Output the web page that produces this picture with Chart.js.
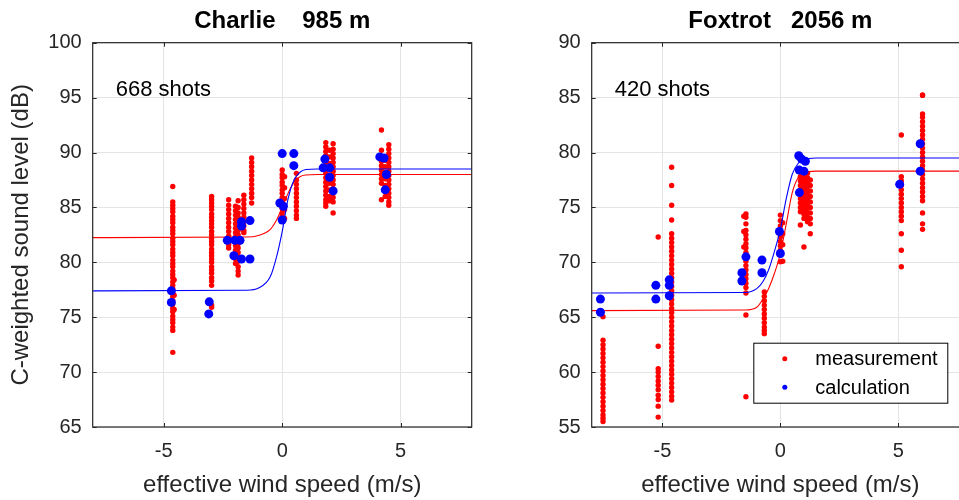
<!DOCTYPE html>
<html><head><meta charset="utf-8">
<script src="https://cdn.jsdelivr.net/npm/chart.js@4/dist/chart.umd.min.js"></script>
<style>
html,body{margin:0;padding:0;background:#fff;overflow:hidden;width:959px;height:500px;}
#c1{position:absolute;left:0;top:0;}
#c2{position:absolute;left:480px;top:0;}
</style></head><body>
<canvas id="c1" width="480" height="500"></canvas>
<canvas id="c2" width="500" height="500"></canvas>
<script>
// ---------- text ----------
const titleCharlie = 'Charlie    985 m';
const titleFoxtrot = 'Foxtrot   2056 m';
const shotsCharlie = '668 shots';
const shotsFoxtrot = '420 shots';
const xAxisLabel = 'effective wind speed (m/s)';
const yAxisLabel = 'C-weighted sound level (dB)';
const legendLabels = ['measurement', 'calculation'];

// ---------- ticks ----------
const xTicks = [-5, 0, 5];
const yTicksCharlie = [65, 70, 75, 80, 85, 90, 95, 100];
const yTicksFoxtrot = [55, 60, 65, 70, 75, 80, 85, 90];

// ---------- Charlie 985 m : measurements (columns of dots) ----------
const charlieMeasured = [
  {x:-4.62, y:[86.9,85.5,85.2,84.9,84.6,84.2,83.9,83.6,83.2,82.9,82.6,82.2,81.9,81.6,81.2,80.9,80.6,80.2,79.9,79.6,79.2,78.9,78.6,78.2,77.9,77.6,77.2,76.9,76.5,76.2,75.8,75.5,75.1,74.8,74.5,74.1,73.8,71.8]},
  {x:-4.56, y:[78.4,77.0,75.7]},
  {x:-2.98, y:[86.0,85.7,85.4,85.1,84.8,84.4,84.1,83.8,83.5,83.2,82.8,82.5,82.2,81.9,81.6,81.2,80.9,80.6,80.3,80.0,79.6,79.3,79.0,78.6,78.3,77.9,76.1,75.9]},
  {x:-2.26, y:[85.7,85.2,84.8,84.4,84.0,83.6,83.2,82.8,82.4,82.0,81.6,81.3]},
  {x:-1.97, y:[85.1,84.7,84.3,83.9,83.5,83.1,82.7,82.3,81.9,81.5,81.1,80.7,80.3,79.9]},
  {x:-1.86, y:[85.6,85.0,84.5,84.1,83.7,83.3,82.9,82.5,82.1,81.7,81.3,80.9,80.5,80.1,79.6,79.2,78.85]},
  {x:-1.62, y:[86.1,85.7,85.3,84.9,84.5,84.1,83.7,83.3,82.9,82.7]},
  {x:-1.29, y:[89.5,89.1,88.7,88.3,87.9,87.5,87.1,86.7,86.3,85.9,85.4]},
  {x:0.0, y:[88.4,88.0,87.7,87.3,87.0,86.6,86.3,85.9,85.6,85.2,84.9,84.5,84.2]},
  {x:0.1, y:[87.8,86.8,85.8,84.8,84.0]},
  {x:0.6, y:[88.1,87.5,87.1,86.7,86.3,85.9,85.5,85.1,84.7,84.3,84.0]},
  {x:1.84, y:[90.9,90.5,90.1,89.7,89.3,88.9,88.5,88.1,87.7,87.3,86.9,86.5,86.1,85.7,85.4,85.1]},
  {x:2.0, y:[90.2,89.6,89.0,88.4,87.8,87.2,86.6,86.0,85.6]},
  {x:2.15, y:[90.8,90.3,89.9,89.5,89.1,88.7,88.3,87.9,87.5,87.1,86.7,86.3,85.9,85.5,84.5]},
  {x:4.19, y:[92.05,90.2,89.6,89.2,88.8,88.4,88.0,87.6,87.2,85.7]},
  {x:4.35, y:[89.3,88.7,88.2,87.6,87.0,86.5,86.0]},
  {x:4.5, y:[90.7,90.3,89.9,89.5,89.1,88.7,88.3,87.9,87.5,87.1,86.7,86.3,85.9,85.5,85.2]}
];
// calculation points [x, y]
const charlieCalculated = [
  [-4.68,77.4],[-4.68,76.35],[-3.08,76.4],[-3.1,75.3],[-2.32,82.0],[-2.0,82.0],[-1.78,82.0],
  [-1.72,83.7],[-1.36,83.8],[-1.72,83.3],[-2.04,80.6],[-1.72,80.3],[-1.36,80.3],
  [-0.1,85.4],[0.05,85.1],[0.0,83.85],[0.0,89.9],[0.49,89.9],[0.49,88.8],
  [1.8,89.4],[1.73,88.6],[2.0,88.6],[2.0,87.75],[2.15,86.5],
  [4.12,89.6],[4.3,89.5],[4.4,88.0],[4.35,86.6]
];
// fitted curves
const charlieFitX    = [-8, -1.5, -1.0, -0.5, -0.25, 0, 0.25, 0.5, 0.75, 1.0, 1.5, 8];
const charlieFitMeas = [82.25, 82.3, 82.45, 83.0, 83.8, 85.0, 86.3, 87.3, 87.8, 87.95, 88.0, 88.0];
const charlieFitCalc = [77.4, 77.45, 77.65, 78.7, 80.4, 82.8, 85.8, 87.5, 88.2, 88.45, 88.5, 88.5];

// ---------- Foxtrot 2056 m ----------
const foxtrotMeasured = [
  {x:-7.52, y:[65.05,62.9,62.5,62.1,61.7,61.3,60.9,60.5,60.1,59.7,59.3,58.9,58.5,58.1,57.7,57.3,56.9,56.5,56.1,55.8,55.5]},
  {x:-5.18, y:[72.3,62.35,60.3,60.0,59.6,59.2,58.8,58.4,57.9,57.5,56.9,55.9]},
  {x:-4.61, y:[78.65,77.0,75.2,73.85,72.6,72.2,71.8,71.4,71.0,70.6,70.2,69.8,69.4,69.0,68.6,68.2,67.8,67.4,67.0,66.6,66.2,65.8,65.4,65.0,64.6,64.2,63.8,63.4,63.0,62.6,62.2,61.8,61.4,61.0,60.6,60.2,59.8,59.4,59.0,58.6,58.2,57.8,57.45]},
  {x:-1.46, y:[74.4,74.1,73.5,72.9,72.5,72.1,71.7,71.3,70.9,70.5,70.1,69.7,69.3,68.9,68.5,68.1,67.7,67.2,65.2,57.75]},
  {x:-1.55, y:[74.2,72.8,71.4]},
  {x:-0.68, y:[67.3,66.9,66.5,66.1,65.7,65.3,64.9,64.5,64.1,63.8,63.5]},
  {x:0.0, y:[74.3,73.8,73.3,72.8,72.3,71.9,71.5,71.1,70.7,70.05]},
  {x:0.1, y:[73.6,72.6,71.6,70.1]},
  {x:0.85, y:[78.2,77.8,77.4,77.0,76.6,76.2,75.8,75.4,75.0,74.6,73.4]},
  {x:1.0, y:[78.0,77.6,77.2,76.8,76.4,76.0,75.6,75.2,74.8,74.4,74.0,71.4]},
  {x:1.15, y:[78.1,77.7,77.3,76.9,76.5,76.1,75.7,75.3,74.9,74.5,74.1,73.7]},
  {x:1.27, y:[77.5,77.0,76.5,76.0,75.5,75.0,74.5,74.0,73.5,72.6]},
  {x:5.13, y:[81.6,77.8,77.4,77.0,76.6,76.2,75.8,75.4,75.0,74.6,74.2,73.8,72.6,71.1,69.6]},
  {x:6.03, y:[85.25,85.2,83.5,83.2,82.8,82.4,82.0,81.6,81.2,80.8,80.4,80.0,79.6,79.2,78.8,78.4,78.0,77.6,77.2,76.8,76.4,76.0,75.6,74.5,73.5,73.0]}
];
const foxtrotCalculated = [
  [-7.63,66.65],[-7.63,65.45],[-5.28,67.9],[-5.28,66.65],[-4.71,68.4],[-4.71,67.9],[-4.71,66.95],
  [-1.63,69.05],[-1.63,68.3],[-1.46,70.5],[-0.78,70.2],[-0.78,69.05],[-0.04,72.8],[0.0,70.8],
  [0.78,79.7],[0.9,79.4],[1.06,79.2],[0.8,78.4],[1.0,78.3],[0.81,76.35],
  [5.06,77.1],[5.93,80.8],[5.93,78.3]
];
const foxtrotFitX    = [-8, -1.5, -1.0, -0.75, -0.5, -0.25, 0, 0.25, 0.5, 0.75, 1.0, 1.5, 8];
const foxtrotFitMeas = [65.6, 65.65, 65.9, 66.6, 67.6, 69.0, 70.8, 73.5, 76.3, 77.7, 78.15, 78.3, 78.3];
const foxtrotFitCalc = [67.2, 67.25, 67.6, 68.2, 69.3, 71.0, 73.0, 75.8, 78.0, 79.0, 79.35, 79.5, 79.5];

// ---------- helpers ----------
const FONT = 'Arial, "Liberation Sans", Helvetica, sans-serif';
const AXIS = '#262626';
const RED = '#ff0000', BLUE = '#0000ff';
const cols = c => c.flatMap(col => col.y.map(v => ({x: col.x, y: v})));
const pairs = p => p.map(([x, y]) => ({x, y}));
const curve = (xs, ys) => xs.map((x, i) => ({x, y: ys[i]}));

function framePlugin(o) {
  return {
    id: 'frame',
    afterDraw(chart) {
      const {ctx, chartArea: a, scales} = chart;
      ctx.save();
      ctx.strokeStyle = AXIS; ctx.lineWidth = 1.2;
      ctx.strokeRect(a.left, a.top, a.right - a.left, a.bottom - a.top);
      const L = 4;
      ctx.beginPath();
      scales.x.ticks.forEach(t => {
        const p = Math.round(scales.x.getPixelForValue(t.value)) + 0.5;
        ctx.moveTo(p, a.bottom); ctx.lineTo(p, a.bottom - L);
        ctx.moveTo(p, a.top); ctx.lineTo(p, a.top + L);
      });
      scales.y.ticks.forEach(t => {
        const p = Math.round(scales.y.getPixelForValue(t.value)) + 0.5;
        ctx.moveTo(a.left, p); ctx.lineTo(a.left + L, p);
        ctx.moveTo(a.right, p); ctx.lineTo(a.right - L, p);
      });
      ctx.lineWidth = 1; ctx.stroke();
      // title
      ctx.fillStyle = '#000';
      ctx.font = 'bold 24px ' + FONT;
      ctx.textAlign = 'center'; ctx.textBaseline = 'middle';
      ctx.fillText(o.title, (a.left + a.right) / 2, 21);
      // annotation
      ctx.font = '22px ' + FONT;
      ctx.textAlign = 'left'; ctx.textBaseline = 'alphabetic';
      ctx.fillText(o.note, a.left + 23, 96);
      // legend
      if (o.legend) {
        const L0 = o.legend;
        ctx.fillStyle = '#fff';
        ctx.fillRect(L0.x, L0.y, L0.w, L0.h);
        ctx.strokeStyle = '#000'; ctx.lineWidth = 1;
        ctx.strokeRect(L0.x + 0.5, L0.y + 0.5, L0.w, L0.h);
        const colors = [RED, BLUE];
        legendLabels.forEach((lab, i) => {
          const cy = L0.y + 16 + i * 28.5;
          ctx.fillStyle = colors[i];
          ctx.beginPath(); ctx.arc(L0.x + 31.5, cy, 2.5, 0, Math.PI * 2); ctx.fill();
          ctx.fillStyle = '#000';
          ctx.font = '20px ' + FONT; ctx.textBaseline = 'middle';
          ctx.fillText(lab, L0.x + 62, cy + 1);
        });
      }
      ctx.restore();
    }
  };
}

function makeChart(id, c) {
  return new Chart(document.getElementById(id), {
    type: 'scatter',
    data: {datasets: [
      {label: legendLabels[1], data: pairs(c.calc), backgroundColor: BLUE, borderWidth: 0, pointRadius: 4.5, order: 0},
      {type: 'line', data: curve(c.fitX, c.fitCalc), borderColor: BLUE, borderWidth: 1.1, pointRadius: 0, cubicInterpolationMode: 'monotone', fill: false, order: 1},
      {type: 'line', data: curve(c.fitX, c.fitMeas), borderColor: RED, borderWidth: 1.1, pointRadius: 0, cubicInterpolationMode: 'monotone', fill: false, order: 2},
      {label: legendLabels[0], data: cols(c.meas), backgroundColor: RED, borderWidth: 0, pointRadius: 2.7, order: 3}
    ]},
    options: {
      responsive: false, animation: false, events: [],
      layout: {padding: {left: 0, top: 42.7, right: c.padRight, bottom: 0}},
      plugins: {legend: {display: false}, tooltip: {enabled: false}, title: {display: false}},
      scales: {
        x: {
          type: 'linear', min: -8, max: 8,
          afterBuildTicks: s => { s.ticks = xTicks.map(v => ({value: v})); },
          afterFit: s => { s.height = 73; },
          grid: {color: '#e4e4e4', drawTicks: false, lineWidth: 1},
          border: {display: false},
          ticks: {font: {size: 20, family: FONT}, color: AXIS, padding: 12, maxRotation: 0},
          title: {display: true, text: xAxisLabel, font: {size: 24, family: FONT, lineHeight: 1.2}, color: AXIS, padding: {top: 0, bottom: 0}}
        },
        y: {
          type: 'linear', min: c.yTicks[0], max: c.yTicks[c.yTicks.length - 1],
          afterBuildTicks: s => { s.ticks = c.yTicks.map(v => ({value: v})); },
          afterFit: s => { s.width = c.yWidth; },
          grid: {color: '#e4e4e4', drawTicks: false, lineWidth: 1},
          border: {display: false},
          ticks: {font: {size: 20, family: FONT}, color: AXIS, padding: 11},
          title: {display: !!c.yTitle, text: c.yTitle || '', font: {size: 24, family: FONT, lineHeight: 1.2}, color: AXIS, padding: {top: 7, bottom: 0}}
        }
      }
    },
    plugins: [framePlugin(c)]
  });
}

makeChart('c1', {
  meas: charlieMeasured, calc: charlieCalculated,
  fitX: charlieFitX, fitMeas: charlieFitMeas, fitCalc: charlieFitCalc,
  yTicks: yTicksCharlie, yWidth: 92.7, padRight: 8.3, yTitle: yAxisLabel,
  title: titleCharlie, note: shotsCharlie
});
makeChart('c2', {
  meas: foxtrotMeasured, calc: foxtrotCalculated,
  fitX: foxtrotFitX, fitMeas: foxtrotFitMeas, fitCalc: foxtrotFitCalc,
  yTicks: yTicksFoxtrot, yWidth: 111.7, padRight: 11,
  title: titleFoxtrot, note: shotsFoxtrot,
  legend: {x: 273.3, y: 342.7, w: 194, h: 60}
});
</script></body></html>
